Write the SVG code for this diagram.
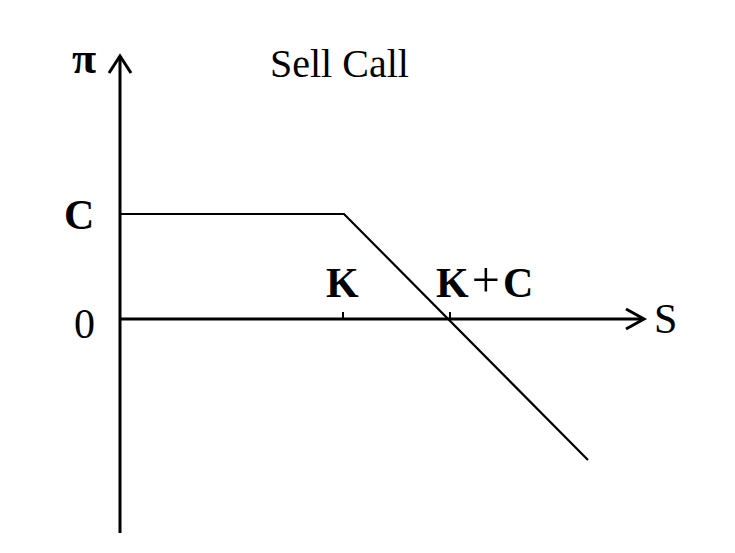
<svg xmlns="http://www.w3.org/2000/svg" width="735" height="553" viewBox="0 0 735 553">
<style>
.ax{stroke:#000;stroke-width:3;fill:none;stroke-linecap:butt}
.pay{stroke:#000;stroke-width:2.2;fill:none}
.tk{stroke:#000;stroke-width:2;fill:none}
.lbl{fill:#000;font-family:"Liberation Serif","Times New Roman",serif}
.b{font-weight:bold}
</style>
<rect width="735" height="553" fill="#fff"/>
<g id="connectors">
<line class="ax" x1="120" y1="533" x2="120" y2="56"/>
<polyline class="ax" points="109,73 120,56 131,73"/>
<line class="ax" x1="120" y1="319" x2="644" y2="319"/>
<polyline class="ax" points="626,309 644,319 626,329"/>
<polyline class="pay" points="120,214 344,214 588,460"/>
<line class="tk" x1="343" y1="312" x2="343" y2="319"/>
<line class="tk" x1="450" y1="312" x2="450" y2="319"/>
</g>
<g id="title"><text class="lbl" x="270" y="77" font-size="40">Sell Call</text></g>
<g id="pi"><text class="lbl b" x="72" y="73" font-size="44">π</text></g>
<g id="labelC"><text class="lbl b" x="64" y="229" font-size="42">C</text></g>
<g id="label0"><text class="lbl" x="74" y="338" font-size="42">0</text></g>
<g id="labelS"><text class="lbl" x="654" y="333" font-size="42">S</text></g>
<g id="labelK"><text class="lbl b" x="326" y="297" font-size="42">K</text></g>
<g id="labelKC"><text class="lbl b" x="436" y="297" font-size="42">K<tspan font-weight="normal" font-size="50" dx="3">+</tspan><tspan dx="3">C</tspan></text></g>
</svg>
